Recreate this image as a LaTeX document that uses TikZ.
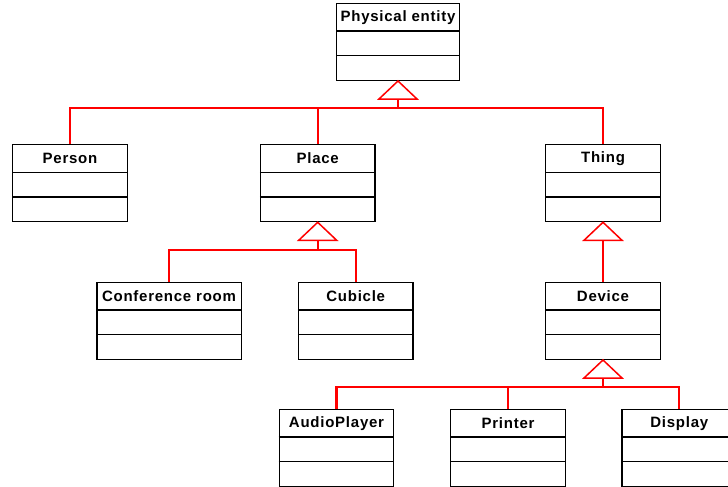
\documentclass[tikz,border=0pt]{standalone}
\usepackage{fontspec}
\setmainfont{Liberation Sans}
\newfontfamily\clsfont[LetterSpace=5]{Liberation Sans}
\begin{document}
\begin{tikzpicture}[x=1pt,y=-1pt,
  cls/.style={draw=black,line width=1.3pt,anchor=north,minimum width=114.6pt,minimum height=77pt,inner sep=0pt,fill=white},
  clstitle/.style={font=\clsfont\bfseries\fontsize{15}{17}\selectfont,inner sep=0pt,anchor=center},
  gen/.style={draw=red,line width=1.5pt,fill=white,line join=miter},
  conn/.style={draw=red,line width=2.2pt}]
\useasboundingbox (0,0) rectangle (728,487);
\newcommand\umlclass[5][114.6pt]{%
  \node[cls,minimum width=#1] (#2) at (#3) {};
  \node[clstitle] (#2-t) at ([yshift=-14.5pt]#2.north) {#5};
  \draw[line width=1.3pt] ([yshift=-28.3pt]#2.north west) -- ([yshift=-28.3pt]#2.north east);
  \draw[line width=1.3pt] ([yshift=-53pt]#2.north west) -- ([yshift=-53pt]#2.north east);
}
\umlclass[122.6pt]{pe}{398,2.7}{}{Physical entity}
\umlclass{person}{70,144}{}{Person}
\umlclass{place}{317.7,144}{}{Place}
\umlclass{thing}{603,144}{}{Thing}
\umlclass[144.3pt]{conf}{169,281.7}{}{Conference room}
\umlclass{cubicle}{355.7,281.7}{}{Cubicle}
\umlclass{device}{603,281.7}{}{Device}
\umlclass{audio}{336.5,408.7}{}{AudioPlayer}
\umlclass{printer}{508,408.7}{}{Printer}
\umlclass{display}{679.3,408.7}{}{Display}

% junctions
\coordinate (pe-b) at ([yshift=-18pt]pe.south);
\coordinate (pe-j) at ([yshift=-26.7pt]pe.south);
\coordinate (place-b) at ([yshift=-18pt]place.south);
\coordinate (place-j) at ([yshift=-27.3pt]place.south);
\coordinate (thing-b) at ([yshift=-18pt]thing.south);
\coordinate (device-b) at ([yshift=-18pt]device.south);
\coordinate (device-j) at ([yshift=-27pt]device.south);

% connectors
\draw[conn] (pe-b) -- (pe-j);
\draw[conn] (person.north) |- (pe-j);
\draw[conn] (place.north) -- (place.north |- pe-j);
\draw[conn] (thing.north) |- (pe-j);

\draw[conn] (place-b) -- (place-j);
\draw[conn] (conf.north) |- (place-j);
\draw[conn] (cubicle.north) |- (place-j);

\draw[conn] (thing-b) -- (device.north);

\draw[conn] (device-b) -- (device-j);
\draw[conn] (audio.north) |- (device-j);
\draw[conn] (printer.north) -- (printer.north |- device-j);
\draw[conn] (display.north) |- (device-j);

% generalization triangles
\draw[gen] (pe.south) -- ++(-19pt,-18pt) -- ++(38pt,0) -- cycle;
\draw[gen] (place.south) -- ++(-19pt,-18pt) -- ++(38pt,0) -- cycle;
\draw[gen] (thing.south) -- ++(-19pt,-18pt) -- ++(38pt,0) -- cycle;
\draw[gen] (device.south) -- ++(-19pt,-18pt) -- ++(38pt,0) -- cycle;
\end{tikzpicture}
\end{document}
